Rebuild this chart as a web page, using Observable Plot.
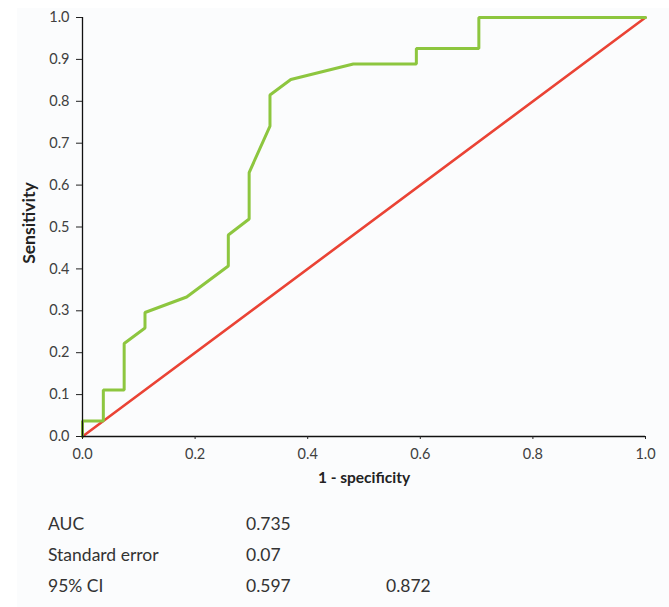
<!DOCTYPE html>
<html>
<head>
<meta charset="utf-8">
<script src="https://cdn.jsdelivr.net/npm/d3@7"></script>
<script src="https://cdn.jsdelivr.net/npm/@observablehq/plot@0.6"></script>
<style>
  html, body { margin: 0; padding: 0; background: #ffffff; }
  #wrap { position: relative; width: 669px; height: 607px; overflow: hidden; }
  #bg { position: absolute; left: 17px; top: 8px; right: 0; bottom: 0; background: #fbfcfd; }
  #chart { position: absolute; left: 0; top: 0; }
  #stats { position: absolute; left: 0; top: 500px; width: 669px; font-family: Lato, "Open Sans", sans-serif; font-size: 17.5px; color: #333; }
  #stats .row { position: absolute; left: 48px; height: 22px; line-height: 22px; white-space: nowrap; }
  #stats span { position: absolute; top: 0; }
</style>
</head>
<body>
<div id="wrap">
  <div id="bg"></div>
  <div id="chart"></div>
  <div id="stats"></div>
</div>
<script>
// ROC curve vertices (1 - specificity, sensitivity)
const fpr = [0, 0, 0.037, 0.037, 0.074, 0.074, 0.111, 0.111, 0.185, 0.259, 0.259, 0.296, 0.296, 0.333, 0.333, 0.370, 0.481, 0.593, 0.593, 0.704, 0.704, 1.0];
const tpr = [0, 0.037, 0.037, 0.111, 0.111, 0.222, 0.259, 0.296, 0.333, 0.407, 0.481, 0.519, 0.630, 0.741, 0.815, 0.852, 0.889, 0.889, 0.926, 0.926, 1.0, 1.0];
// reference (chance) line
const refX = [0, 1];
const refY = [0, 1];
// axis ticks
const xTicks = [0, 0.2, 0.4, 0.6, 0.8, 1.0];
const yTicks = [0, 0.1, 0.2, 0.3, 0.4, 0.5, 0.6, 0.7, 0.8, 0.9, 1.0];
// statistics table
const statLabels = ["AUC", "Standard error", "95% CI"];
const statValues = [["0.735"], ["0.07"], ["0.597", "0.872"]];

const roc = fpr.map((x, i) => ({x, y: tpr[i]}));
const diag = refX.map((x, i) => ({x, y: refY[i]}));

const font = "Lato, 'Open Sans', sans-serif";

const chart = Plot.plot({
  width: 669,
  height: 500,
  marginLeft: 82,
  marginRight: 24,
  marginTop: 17,
  marginBottom: 64,
  style: {fontFamily: font, fontSize: "14px", color: "#404040", background: "transparent", overflow: "visible"},
  x: {domain: [0, 1]},
  y: {domain: [0, 1]},
  marks: [
    Plot.line(diag, {x: "x", y: "y", stroke: "#ea4335", strokeWidth: 2.6}),
    Plot.line(roc, {x: "x", y: "y", stroke: "#8dc63f", strokeWidth: 3, strokeLinejoin: "miter"}),
    Plot.ruleX([0], {stroke: "#111", strokeWidth: 1.3}),
    Plot.ruleY([0], {stroke: "#111", strokeWidth: 1.3}),
    Plot.axisY({ticks: yTicks, tickFormat: d3.format(".1f"), tickSize: 6, tickPadding: 7, stroke: "#222", fill: "#404040", fontSize: 14.5, label: null}),
    Plot.axisX({ticks: xTicks, tickFormat: d3.format(".1f"), tickSize: 3, tickPadding: 9, stroke: "#222", fill: "#404040", fontSize: 14.5, label: null}),
    Plot.text(["1 - specificity"], {frameAnchor: "bottom", dy: 46, fontWeight: "bold", fontSize: 15.5, fill: "#222"}),
    Plot.text(["Sensitivity"], {frameAnchor: "left", textAnchor: "middle", dx: -53, dy: -4, rotate: -90, fontWeight: "bold", fontSize: 17.5, fill: "#222"})
  ]
});
document.getElementById("chart").appendChild(chart);

const stats = document.getElementById("stats");
const rowTops = [13, 44, 75];
const valueLefts = [198, 338];
statLabels.forEach((lab, i) => {
  const row = document.createElement("div");
  row.className = "row";
  row.style.top = rowTops[i] + "px";
  const l = document.createElement("span");
  l.style.left = "0px";
  l.textContent = lab;
  row.appendChild(l);
  statValues[i].forEach((v, j) => {
    const s = document.createElement("span");
    s.style.left = valueLefts[j] + "px";
    s.textContent = v;
    row.appendChild(s);
  });
  stats.appendChild(row);
});
</script>
</body>
</html>
